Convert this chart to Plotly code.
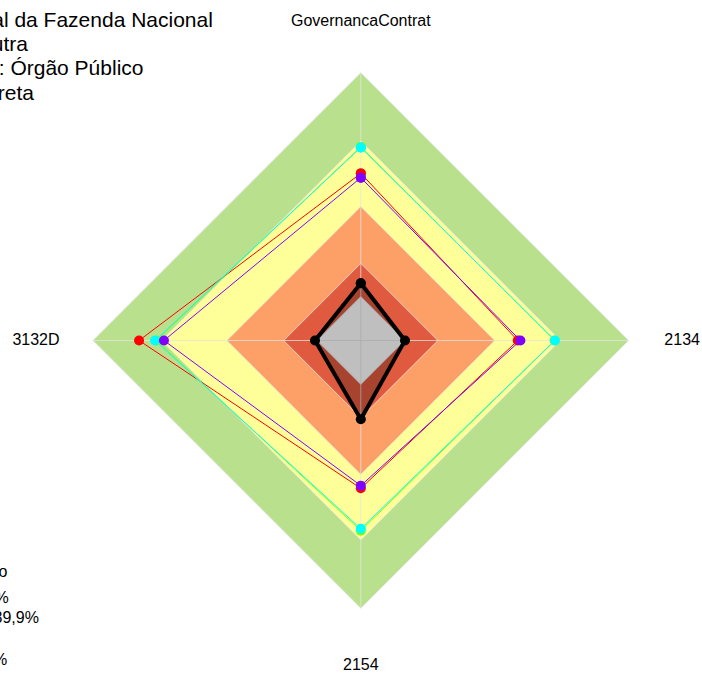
import plotly.graph_objects as go

# Axes of the radar, clockwise from the top
categories = ["GovernancaContrat", "2134", "2154", "3132D"]

# Maturity bands (outer limit of each band, in %) and their fills
band_limits = [100.0, 74.5, 50.0, 28.8, 16.4]
band_colors = ["#B9E08C", "#FFFF99", "#FCA068", "#E05A40", "#FFFFFF"]

# Series scores (%) per axis, same order as categories
serie_red = [62.4, 58.6, 55.2, 82.8]
serie_green = [72.3, 72.4, 71.0, 76.3]
serie_cyan = [72.1, 72.5, 70.3, 76.8]
serie_purple = [60.8, 59.6, 54.2, 73.5]
serie_org = [21.4, 16.5, 29.4, 17.1]

series = [
    ("Média geral", serie_red, "#FF0000"),
    ("Média do segmento", serie_green, "#80FF00"),
    ("Média da esfera", serie_cyan, "#00FFFF"),
    ("Média da natureza jurídica", serie_purple, "#8000FF"),
]

title_lines = [
    "Procuradoria-Geral da Fazenda Nacional",
    "Segmento: Outra",
    "Natureza jurídica: Órgão Público",
    "Administração Direta",
]
legend_lines = [
    "Estágio",
    "Inexpressivo: 0 a 14,9%",
    "Iniciando: 15 a 39,9%",
    "Intermediário",
    "Aprimorado: 70 a 100%",
]

FONT = "Liberation Sans, Arial, sans-serif"
GRID = "rgba(228,228,228,0.75)"
R_MAX = 100.0                          # outer edge of the bands
R_FRAME = 122.0                        # radial extent of the polar frame
label_r = [118.9, 120.0, 121.5, 121.3]  # where each axis name sits


def closed(vals):
    return list(vals) + [vals[0]]


theta_closed = closed(categories)

fig = go.Figure()

# Background bands, outermost first
for lim, col in zip(band_limits, band_colors):
    fig.add_trace(go.Scatterpolar(
        r=[lim] * len(theta_closed), theta=theta_closed,
        mode="lines", fill="toself", fillcolor=col,
        line=dict(color=GRID, width=1), hoverinfo="skip", showlegend=False,
    ))

# Spokes
for cat in categories:
    fig.add_trace(go.Scatterpolar(
        r=[0, R_MAX], theta=[cat, cat], mode="lines",
        line=dict(color=GRID, width=1), hoverinfo="skip", showlegend=False,
    ))

# Comparison series
for name, vals, col in series:
    fig.add_trace(go.Scatterpolar(
        r=closed(vals), theta=theta_closed, name=name,
        mode="lines+markers", line=dict(color=col, width=1),
        marker=dict(color=col, size=10), showlegend=False,
    ))

# Organisation profile
fig.add_trace(go.Scatterpolar(
    r=closed(serie_org), theta=theta_closed, name=title_lines[0],
    mode="lines+markers", fill="toself", fillcolor="rgba(0,0,0,0.25)",
    line=dict(color="#000000", width=4),
    marker=dict(color="#000000", size=10), showlegend=False,
))

# Axis labels
fig.add_trace(go.Scatterpolar(
    r=label_r, theta=categories, mode="text",
    text=categories, textposition="middle center",
    textfont=dict(family=FONT, size=16, color="#000000"),
    cliponaxis=False, hoverinfo="skip", showlegend=False,
))

W, H = 702, 673
# polar frame: centre and pixel radius of R_FRAME
cx, cy, rad = 360.8, 340.5, 267.8 * R_FRAME / R_MAX

annotations = []
title_ends = [215, 30, 146, 36]
title_ys = [19, 44, 68, 93]
for txt, xe, yc in zip(title_lines, title_ends, title_ys):
    annotations.append(dict(
        text=txt, xref="paper", yref="paper", x=xe / W, y=1 - yc / H,
        xanchor="right", yanchor="middle", showarrow=False,
        font=dict(family=FONT, size=21, color="#000000"),
    ))
legend_ends = [9, 11, 41, -6, 9]
legend_ys = [571, 597, 617, 638, 659]
for txt, xe, yc in zip(legend_lines, legend_ends, legend_ys):
    annotations.append(dict(
        text=txt, xref="paper", yref="paper", x=xe / W, y=1 - yc / H,
        xanchor="right", yanchor="middle", showarrow=False,
        font=dict(family=FONT, size=16, color="#000000"),
    ))

fig.update_layout(
    width=W, height=H,
    margin=dict(l=0, r=0, t=0, b=0),
    paper_bgcolor="#FFFFFF",
    showlegend=False,
    polar=dict(
        domain=dict(x=[(cx - rad) / W, (cx + rad) / W],
                    y=[1 - (cy + rad) / H, 1 - (cy - rad) / H]),
        bgcolor="rgba(0,0,0,0)",
        gridshape="linear",
        radialaxis=dict(range=[0, R_FRAME], visible=False, showgrid=False),
        angularaxis=dict(
            categoryorder="array", categoryarray=categories,
            rotation=90, direction="clockwise",
            showgrid=False, showline=False, showticklabels=False, ticks="",
        ),
    ),
    annotations=annotations,
)

fig.write_html("out.html")
